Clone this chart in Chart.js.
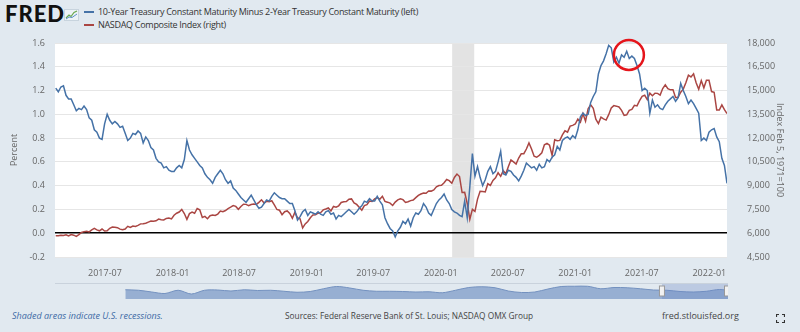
<!DOCTYPE html>
<html>
<head>
<meta charset="utf-8">
<script src="https://cdn.jsdelivr.net/npm/chart.js@4.4.1/dist/chart.umd.min.js"></script>
<style>
  body { margin: 0; background: #e1e9f0; font-family: "Open Sans", sans-serif; }
  #wrap { position: relative; width: 800px; height: 332px; overflow: hidden; background: #e1e9f0; }
  #logo { position: absolute; left: 5px; top: 3px; font: 900 22px/22px "Lato", sans-serif; color: #111; letter-spacing: 1px; }
  #logoIcon { position: absolute; left: 64px; top: 9px; }
  .legend-row { position: absolute; left: 84px; font-size: 9px; line-height: 12px; color: #333; white-space: nowrap; letter-spacing: -0.3px; }
  .swatch { display: inline-block; width: 10px; height: 2px; margin-right: 4px; vertical-align: middle; position: relative; top: -1px; }
  #mainBox { position: absolute; left: 0; top: 35px; }
  #navLine { position: absolute; left: 55px; top: 283px; width: 673px; height: 1px; background: #c9d2dc; }
  #navBox { position: absolute; left: 124px; top: 284px; }
  .foot { position: absolute; top: 310px; font-size: 9px; line-height: 12px; color: #444; white-space: nowrap; }
  #recessNote { left: 12px; font-style: italic; color: #3d6aa5; }
  #sources { left: 285px; font-size: 8.3px; }
  #site { left: 662px; }
  #fullscreen { position: absolute; left: 776px; top: 314px; }
</style>
</head>
<body>
<div id="wrap">
  <div id="logo">FRED</div>
  <svg id="logoIcon" width="15" height="12" viewBox="0 0 15 12">
    <rect x="0.5" y="0.5" width="14" height="11" fill="#eef3f7" stroke="#c8d4de"/>
    <polyline points="2,9 5,6 7,7.5 10,3.5 13,2" fill="none" stroke="#6aa84f" stroke-width="1.2"/>
    <polyline points="2,10 5,8 8,8.5 13,5" fill="none" stroke="#5b8fc7" stroke-width="1"/>
  </svg>
  <div class="legend-row" style="top:6px"><span class="swatch" style="background:#4572a7"></span>10-Year Treasury Constant Maturity Minus 2-Year Treasury Constant Maturity (left)</div>
  <div class="legend-row" style="top:19px"><span class="swatch" style="background:#aa4643"></span>NASDAQ Composite Index (right)</div>

  <div id="mainBox"><canvas id="mainChart" width="800" height="245"></canvas></div>
  <div id="navLine"></div>
  <div id="navBox"><canvas id="navChart" width="604" height="15"></canvas></div>

  <div class="foot" id="recessNote">Shaded areas indicate U.S. recessions.</div>
  <div class="foot" id="sources">Sources: Federal Reserve Bank of St. Louis; NASDAQ OMX Group</div>
  <div class="foot" id="site">fred.stlouisfed.org</div>
  <svg id="fullscreen" width="9" height="9" viewBox="0 0 9 9" fill="none" stroke="#333" stroke-width="1.2">
    <polyline points="0.5,3 0.5,0.5 3,0.5"/><polyline points="6,0.5 8.5,0.5 8.5,3"/>
    <polyline points="8.5,6 8.5,8.5 6,8.5"/><polyline points="3,8.5 0.5,8.5 0.5,6"/>
  </svg>
</div>

<script>
// weekly observations (Fridays) starting here
var firstWeek = '2017-02-17';
var axisStart = '2017-02-15';
var axisEnd = '2022-02-18';

var tickDates = ['2017-07-01', '2018-01-01', '2018-07-01', '2019-01-01', '2019-07-01',
                 '2020-01-01', '2020-07-01', '2021-01-01', '2021-07-01', '2022-01-01'];
var tickLabels = ['2017-07', '2018-01', '2018-07', '2019-01', '2019-07',
                  '2020-01', '2020-07', '2021-01', '2021-07', '2022-01'];

var recessionStart = '2020-02-01';
var recessionEnd = '2020-04-01';

// T10Y2Y, percent
var spreadValues = [
  // 2017
  1.22, 1.19, 1.23, 1.24, 1.16, 1.13, 1.13, 1.08, 1.03, 1.05, 1.04, 1.07, 1.04, 0.97, 0.95,
  0.87, 0.85, 0.80, 0.79, 0.92, 1.00, 0.95, 0.92, 0.94, 0.92, 0.89, 0.90, 0.84,
  0.78, 0.80, 0.84, 0.83, 0.86, 0.84, 0.76, 0.81, 0.78, 0.72, 0.70, 0.63, 0.60,
  0.59, 0.55, 0.56, 0.53, 0.52,
  // 2018
  0.52, 0.55, 0.57, 0.55, 0.62, 0.78, 0.70, 0.66, 0.63, 0.60, 0.57, 0.55, 0.50,
  0.47, 0.45, 0.42, 0.47, 0.50, 0.53, 0.50, 0.45, 0.42, 0.44, 0.38, 0.36, 0.33,
  0.30, 0.28, 0.26, 0.29, 0.32, 0.28, 0.24, 0.21, 0.22, 0.25, 0.28, 0.27, 0.31,
  0.34, 0.32, 0.30, 0.29, 0.29, 0.27, 0.25, 0.25, 0.19, 0.11, 0.14, 0.18, 0.20,
  // 2019
  0.15, 0.18, 0.17, 0.16, 0.18, 0.16, 0.15, 0.18, 0.19, 0.16, 0.17, 0.12, 0.15,
  0.14, 0.16, 0.18, 0.20, 0.18, 0.16, 0.18, 0.21, 0.23, 0.27, 0.26, 0.29, 0.27,
  0.27, 0.31, 0.27, 0.24, 0.13, 0.08, 0.04, 0.02, -0.03, 0.02, 0.05, 0.10, 0.08,
  0.12, 0.06, 0.13, 0.17, 0.16, 0.19, 0.25, 0.22, 0.17, 0.15, 0.20, 0.25, 0.28,
  // 2020
  0.30, 0.33, 0.28, 0.25, 0.20, 0.18, 0.17, 0.15, 0.14, 0.27, 0.13, 0.39, 0.67,
  0.48, 0.56, 0.47, 0.40, 0.45, 0.52, 0.56, 0.50, 0.52, 0.60, 0.69, 0.50, 0.49,
  0.53, 0.52, 0.49, 0.47, 0.44, 0.48, 0.53, 0.59, 0.57, 0.55, 0.56, 0.53, 0.58,
  0.55, 0.56, 0.62, 0.60, 0.64, 0.66, 0.73, 0.70, 0.78, 0.80, 0.81, 0.79, 0.82,
  // 2021
  0.80, 0.87, 0.98, 1.01, 0.99, 1.00, 1.10, 1.15, 1.19, 1.34, 1.41, 1.45, 1.51,
  1.58, 1.56, 1.44, 1.48, 1.43, 1.50, 1.48, 1.53, 1.47, 1.49, 1.47, 1.41, 1.34,
  1.20, 1.22, 1.20, 1.01, 1.12, 1.06, 1.08, 1.05, 1.04, 1.08, 1.11, 1.13, 1.15,
  1.11, 1.14, 1.26, 1.20, 1.15, 1.09, 1.12, 1.09, 1.05, 1.01, 0.78, 0.80, 0.78, 0.85,
  // 2022
  0.87, 0.88, 0.81, 0.77, 0.63, 0.57, 0.42
];

// NASDAQ Composite, index level
var nasdaqValues = [
  // 2017
  5838, 5845, 5870, 5861, 5901, 5828, 5912, 5878, 5805, 5910, 6047, 6100, 6121, 6083, 6210,
  6305, 6207, 6151, 6265, 6140, 6153, 6312, 6387, 6374, 6351, 6256, 6216, 6265,
  6435, 6360, 6448, 6426, 6496, 6590, 6605, 6629, 6701, 6764, 6750, 6782, 6889,
  6847, 6840, 6936, 6959, 6903,
  // 2018
  7136, 7261, 7336, 7505, 7240, 6874, 7239, 7337, 7257, 7560, 7481, 6993, 7063,
  6915, 7106, 7146, 7119, 7209, 7402, 7354, 7433, 7554, 7645, 7746, 7692, 7510,
  7688, 7825, 7820, 7737, 7812, 7839, 7816, 7945, 8109, 7903, 8010, 7986, 8046,
  7788, 7497, 7449, 7167, 7357, 7406, 7247, 6938, 7330, 6969, 6910, 6333, 6584,
  // 2019
  6739, 6971, 7157, 7165, 7263, 7298, 7472, 7527, 7595, 7408, 7688, 7643, 7729,
  7939, 7984, 7998, 8146, 8164, 7917, 7816, 7637, 7453, 7742, 7797, 8031, 8006,
  8161, 8244, 8146, 8330, 8004, 7959, 7896, 7751, 7963, 8103, 8176, 8117, 7940,
  7982, 8057, 8089, 8243, 8386, 8475, 8540, 8519, 8665, 8656, 8735, 8925, 9007,
  // 2020
  9020, 9179, 9388, 9315, 9151, 9520, 9731, 9577, 8567, 8576, 7875, 6880, 7502,
  7373, 8153, 8650, 8634, 8605, 9121, 9015, 9325, 9490, 9815, 9589, 9946, 9757,
  10208, 10617, 10503, 10363, 10745, 11011, 11019, 11312, 11696, 11313, 10854, 10794, 10914,
  11076, 11580, 11672, 11548, 10912, 11895, 11830, 11855, 12206, 12464, 12378, 12756, 12805,
  // 2021
  12888, 13202, 12999, 13543, 13071, 13856, 14095, 13875, 13192, 12920, 13320, 13215, 13139,
  13480, 13900, 14052, 14016, 13962, 13752, 13430, 13471, 13748, 13814, 14069, 14030, 14360,
  14639, 14701, 14427, 14837, 14673, 14835, 14823, 14715, 15130, 15364, 15115, 15044, 15048,
  14567, 14580, 14897, 15090, 15498, 15971, 15860, 16057, 15491, 15085, 15630, 15170, 15653, 15645,
  // 2022
  14936, 14894, 13768, 13771, 14098, 13791, 13548
];

// long-run spread history for the range selector strip
var navYears = [1976, 1977, 1978, 1979, 1980, 1981, 1982, 1983, 1984, 1985, 1986, 1987,
                1988, 1989, 1990, 1991, 1992, 1993, 1994, 1995, 1996, 1997, 1998, 1999,
                2000, 2001, 2002, 2003, 2004, 2005, 2006, 2007, 2008, 2009, 2010, 2011,
                2012, 2013, 2014, 2015, 2016, 2017, 2018, 2019, 2020, 2021, 2022];
var navValues = [1.1, 0.9, 0.2, -0.4, 0.9, -0.6, 0.9, 1.0, 0.6, 1.1, 0.8, 0.9,
                 0.5, 0.1, 0.4, 1.5, 2.4, 1.8, 0.9, 0.5, 0.5, 0.4, 0.2, 0.3,
                 -0.1, 0.9, 2.0, 2.3, 1.9, 0.6, 0.0, 0.2, 1.4, 2.4, 2.5, 2.5,
                 1.5, 2.0, 1.9, 1.5, 1.0, 0.9, 0.4, 0.2, 0.5, 1.2, 0.5];
var windowStart = 2017.13;
var windowEnd = 2022.13;

// annotation ring around the spring 2021 plateau
var ringDate = '2021-05-27';
var ringValue = 1.5;

function dayNum(s) { return Date.parse(s) / 86400000; }

var firstDay = dayNum(firstWeek);
function weekly(values) {
  return values.map(function(v, i) { return { x: firstDay + 7 * i, y: v }; });
}

// fixed box sizes; tick padding should not push the plot area in
function fixWidth(w) {
  return function(scale) {
    scale.width = w;
    scale.paddingTop = 0;
    scale.paddingBottom = 0;
  };
}

Chart.defaults.font.family = '"Open Sans", sans-serif';
Chart.defaults.color = '#666';

var plotBackground = {
  id: 'plotBackground',
  beforeDraw: function(chart) {
    var a = chart.chartArea, ctx = chart.ctx, xs = chart.scales.x;
    ctx.save();
    ctx.fillStyle = '#ffffff';
    ctx.fillRect(a.left, a.top, a.right - a.left, a.bottom - a.top);
    var x0 = xs.getPixelForValue(dayNum(recessionStart));
    var x1 = xs.getPixelForValue(dayNum(recessionEnd));
    ctx.fillStyle = '#e3e3e3';
    ctx.fillRect(x0, a.top, x1 - x0, a.bottom - a.top);
    ctx.restore();
  }
};

var ring = {
  id: 'ring',
  afterDatasetsDraw: function(chart) {
    var ctx = chart.ctx;
    var cx = chart.scales.x.getPixelForValue(dayNum(ringDate));
    var cy = chart.scales.y.getPixelForValue(ringValue);
    ctx.save();
    ctx.strokeStyle = '#e5151b';
    ctx.lineWidth = 2.5;
    ctx.beginPath();
    ctx.arc(cx, cy, 15, 0, Math.PI * 2);
    ctx.stroke();
    ctx.restore();
  }
};

new Chart(document.getElementById('mainChart'), {
  type: 'line',
  data: {
    datasets: [{
      label: '10-Year Treasury Constant Maturity Minus 2-Year Treasury Constant Maturity (left)',
      data: weekly(spreadValues),
      yAxisID: 'y',
      borderColor: '#4572a7',
      borderWidth: 1.5,
      pointRadius: 0,
      tension: 0
    }, {
      label: 'NASDAQ Composite Index (right)',
      data: weekly(nasdaqValues),
      yAxisID: 'y1',
      borderColor: '#aa4643',
      borderWidth: 1.5,
      pointRadius: 0,
      tension: 0
    }]
  },
  options: {
    responsive: false,
    animation: false,
    layout: { padding: { top: 8, left: 0, right: 0, bottom: 0 } },
    plugins: { legend: { display: false }, tooltip: { enabled: false } },
    scales: {
      x: {
        type: 'linear',
        min: dayNum(axisStart),
        max: dayNum(axisEnd),
        grid: { display: false },
        border: { display: false },
        afterBuildTicks: function(scale) {
          scale.ticks = tickDates.map(function(d) { return { value: dayNum(d) }; });
        },
        afterFit: function(scale) { scale.height = 23; },
        ticks: {
          autoSkip: false,
          maxRotation: 0,
          padding: 3,
          font: { size: 9 },
          callback: function(value, index) { return tickLabels[index]; }
        }
      },
      y: {
        position: 'left',
        min: -0.2,
        max: 1.6,
        border: { display: false },
        grid: {
          drawTicks: false,
          color: function(c) { return c.tick && Math.abs(c.tick.value) < 1e-9 ? '#000000' : '#e6e6e6'; },
          lineWidth: function(c) { return c.tick && Math.abs(c.tick.value) < 1e-9 ? 1.5 : 1; }
        },
        ticks: {
          stepSize: 0.2,
          padding: 10,
          font: { size: 9 },
          callback: function(v) { return v.toFixed(1); }
        },
        title: { display: true, text: 'Percent', font: { size: 9 }, padding: { top: 9, bottom: 0 } },
        afterFit: fixWidth(55)
      },
      y1: {
        position: 'right',
        min: 4500,
        max: 18000,
        border: { display: false },
        grid: { display: false, drawTicks: false },
        ticks: {
          stepSize: 1500,
          padding: 20,
          font: { size: 9 },
          callback: function(v) { return v.toLocaleString('en-US'); }
        },
        title: { display: true, text: 'Index Feb 5, 1971=100', font: { size: 9 }, padding: { top: 15, bottom: 0 } },
        afterFit: fixWidth(73)
      }
    }
  },
  plugins: [plotBackground, ring]
});

var navWindow = {
  id: 'navWindow',
  afterDatasetsDraw: function(chart) {
    var ctx = chart.ctx, xs = chart.scales.x, a = chart.chartArea;
    var x0 = xs.getPixelForValue(windowStart), x1 = xs.getPixelForValue(windowEnd);
    ctx.save();
    ctx.fillStyle = 'rgba(102, 133, 194, 0.3)';
    ctx.fillRect(x0, a.top, x1 - x0, a.bottom - a.top);
    [x0, x1 - 1].forEach(function(hx) {
      ctx.fillStyle = '#f2f2f2';
      ctx.strokeStyle = '#999';
      ctx.lineWidth = 1;
      ctx.fillRect(hx - 2.5, a.top + 2, 5, 10);
      ctx.strokeRect(hx - 2.5, a.top + 2, 5, 10);
    });
    ctx.restore();
  }
};

new Chart(document.getElementById('navChart'), {
  type: 'line',
  data: {
    datasets: [{
      data: navYears.map(function(y, i) { return { x: y + 0.5, y: navValues[i] }; }),
      borderColor: '#7391bf',
      borderWidth: 1,
      backgroundColor: 'rgba(120, 150, 196, 0.7)',
      fill: 'start',
      pointRadius: 0,
      tension: 0.3
    }]
  },
  options: {
    responsive: false,
    animation: false,
    layout: { padding: 0 },
    plugins: { legend: { display: false }, tooltip: { enabled: false } },
    scales: {
      x: { type: 'linear', min: 1976.4, max: 2022.13, display: false },
      y: { min: -2.6, max: 3.4, display: false }
    }
  },
  plugins: [navWindow]
});
</script>
</body>
</html>
